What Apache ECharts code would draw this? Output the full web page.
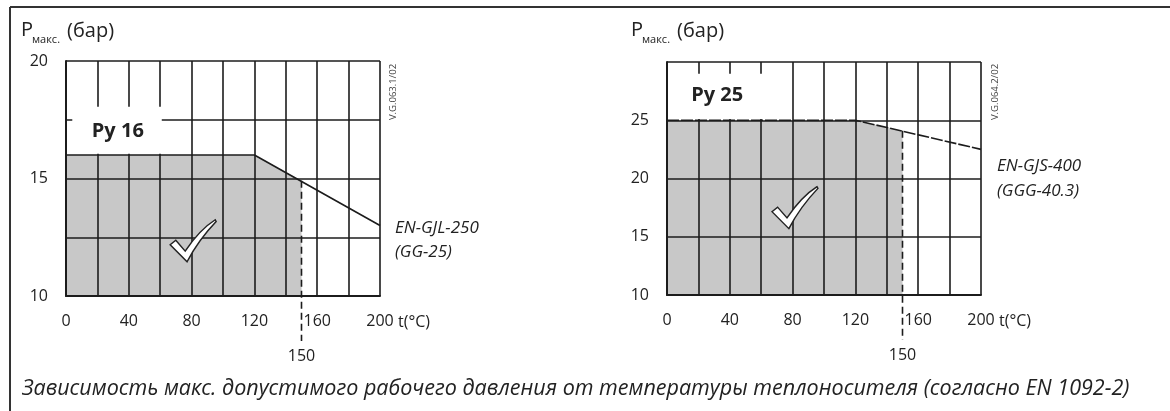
<!DOCTYPE html>
<html>
<head>
<meta charset="utf-8">
<script src="https://cdn.jsdelivr.net/npm/echarts@6/dist/echarts.min.js"></script>
<style>
html,body{margin:0;padding:0;background:#fff;}
#chart{width:1170px;height:411px;}
</style>
</head>
<body>
<div id="chart"></div>
<script>
// ---- data ----
const tempLabels = [0, 40, 80, 120, 160, 200];
const py16YLabels = [10, 15, 20];
const py25YLabels = [10, 15, 20, 25];
const py16Curve = [[0, 16], [120, 16], [200, 13]];
const py16Allowed = [[0, 16], [120, 16], [150, 14.9]];
const py25Curve = [[0, 25], [120, 25], [200, 22.5]];
const py25Allowed = [[0, 25], [120, 25], [150, 24.1]];
const py16Limit = [[150, 14.9]];
const py25Limit = [[150, 24.1]];
const materials = [['EN-GJL-250', '(GG-25)'], ['EN-GJS-400', '(GGG-40.3)']];
const pressureClasses = ['Py 16', 'Py 25'];
const drawingCodes = ['V.G.063.1/02', 'V.G.064.2/02'];
const xTitle = 't(°C)';
const caption = 'Зависимость макс. допустимого рабочего давления от температуры теплоносителя (согласно EN 1092-2)';

const FONT = "'Open Sans', 'Noto Sans', sans-serif";
const INK = '#1c1c1c';

const panels = [
  { grid: {left: 66, top: 61, width: 314, height: 235}, yMin: 10, yMax: 20, yInt: 2.5,
    yLabels: py16YLabels, curve: py16Curve, allowed: py16Allowed, limit: py16Limit,
    curveDash: 'solid', box: [4, 18.05, 61, 16.05], labelAt: [33, 17.0], check: [81, 12.35],
    label: pressureClasses[0] },
  { grid: {left: 667, top: 62, width: 314, height: 233}, yMin: 10, yMax: 30, yInt: 5,
    yLabels: py25YLabels, curve: py25Curve, allowed: py25Allowed, limit: py25Limit,
    curveDash: [12, 2], box: [2, 29, 79, 25.1], labelAt: [32, 27.1], check: [81.5, 17.5],
    label: pressureClasses[1] }
];

const chart = echarts.init(document.getElementById('chart'), null, {renderer: 'canvas'});

const xAxes = [], yAxes = [], series = [];
panels.forEach((p, i) => {
  xAxes.push({
    gridIndex: i, type: 'value', min: 0, max: 200, interval: 20, z: 3,
    axisLine: {show: true, onZero: false, lineStyle: {color: INK, width: 2}},
    axisTick: {show: false},
    splitLine: {show: true, lineStyle: {color: INK, width: 1.6}},
    axisLabel: {formatter: v => tempLabels.includes(v) ? String(v) : '', margin: 17,
      fontSize: 16, color: '#222', fontFamily: FONT}
  });
  yAxes.push({
    gridIndex: i, type: 'value', min: p.yMin, max: p.yMax, interval: p.yInt, z: 3,
    axisLine: {show: true, onZero: false, lineStyle: {color: INK, width: 2}},
    axisTick: {show: false},
    splitLine: {show: true, lineStyle: {color: INK, width: 1.6}},
    axisLabel: {formatter: v => p.yLabels.includes(v) ? String(v) : '', margin: 18,
      fontSize: 16, color: '#222', fontFamily: FONT}
  });
  // allowed (grey) region
  series.push({
    type: 'line', xAxisIndex: i, yAxisIndex: i, data: p.allowed, symbol: 'none', z: 1,
    lineStyle: {width: 0}, areaStyle: {color: '#c8c8c8', opacity: 1, origin: 'start'},
    silent: true, animation: false
  });
  // white label box with pressure class
  series.push({
    type: 'custom', xAxisIndex: i, yAxisIndex: i, data: [[0]], z: 4, silent: true, animation: false,
    renderItem: (params, api) => {
      const a = api.coord([p.box[0], p.box[1]]);
      const b = api.coord([p.box[2], p.box[3]]);
      const t = api.coord(p.labelAt);
      return {type: 'group', children: [
        {type: 'rect', shape: {x: a[0], y: a[1], width: b[0] - a[0], height: b[1] - a[1]},
          style: {fill: '#fff'}},
        {type: 'text', x: t[0], y: t[1], style: {text: p.label, fontSize: 20, fontWeight: 'bold',
          fontFamily: FONT, fill: '#222', align: 'center', verticalAlign: 'middle'}}
      ]};
    }
  });
  // pressure curve
  series.push({
    type: 'line', xAxisIndex: i, yAxisIndex: i, data: p.curve, symbol: 'none', z: 5,
    lineStyle: {color: INK, width: 1.6, type: p.curveDash}, silent: true, animation: false
  });
  // temperature limit marker + x-axis title
  series.push({
    type: 'custom', xAxisIndex: i, yAxisIndex: i, data: p.limit, z: 5, silent: true, animation: false,
    renderItem: (params, api) => {
      const top = api.coord([api.value(0), api.value(1)]);
      const base = api.coord([api.value(0), p.yMin]);
      const end = api.coord([200, p.yMin]);
      return {type: 'group', children: [
        {type: 'line', shape: {x1: top[0], y1: top[1], x2: base[0], y2: base[1] + 45},
          style: {stroke: INK, lineWidth: 1.6, lineDash: [7, 4]}},
        {type: 'text', x: base[0], y: base[1] + 60, style: {text: String(api.value(0)),
          fontSize: 16, fontFamily: FONT, fill: '#222', align: 'center', verticalAlign: 'middle'}},
        {type: 'text', x: end[0] + 18, y: end[1] + 26, style: {text: xTitle,
          fontSize: 16, fontFamily: FONT, fill: '#222', align: 'left', verticalAlign: 'middle'}}
      ]};
    }
  });
  // check mark
  series.push({
    type: 'scatter', xAxisIndex: i, yAxisIndex: i, data: [p.check], z: 6, silent: true, animation: false,
    symbol: 'path://M2,58 L14,48 L34,72 C52,44 74,18 98,2 L100,6 C78,30 56,60 38,96 Z',
    symbolSize: [46, 42], symbolKeepAspect: false,
    itemStyle: {color: '#fff', borderColor: '#222', borderWidth: 1.4, opacity: 1}
  });
});

const txt = (x, y, text, extra) => Object.assign({type: 'text', x: x, y: y,
  style: Object.assign({text: text, fontFamily: FONT, fill: '#222', fontSize: 16,
    verticalAlign: 'middle'}, extra || {})});

const graphics = [
  {type: 'line', shape: {x1: 10, y1: 7, x2: 1170, y2: 7}, style: {stroke: '#333', lineWidth: 2}},
  {type: 'line', shape: {x1: 10, y1: 7, x2: 10, y2: 411}, style: {stroke: '#333', lineWidth: 2}},
  // axis titles
  txt(21, 30, 'P', {fontSize: 20}), txt(32, 40, 'макс.', {fontSize: 11}), txt(67, 31, '(бар)', {fontSize: 20}),
  txt(631, 30, 'P', {fontSize: 20}), txt(642, 40, 'макс.', {fontSize: 11}), txt(677, 31, '(бар)', {fontSize: 20}),
  // drawing codes
  Object.assign(txt(393, 92, drawingCodes[0], {fontSize: 9.5, align: 'center', fill: '#444'}), {rotation: Math.PI / 2}),
  Object.assign(txt(995, 92, drawingCodes[1], {fontSize: 9.5, align: 'center', fill: '#444'}), {rotation: Math.PI / 2}),
  // material labels
  txt(395, 228, materials[0][0], {fontSize: 17, fontStyle: 'italic'}),
  txt(395, 252, materials[0][1], {fontSize: 17, fontStyle: 'italic'}),
  txt(997, 166, materials[1][0], {fontSize: 17, fontStyle: 'italic'}),
  txt(997, 191, materials[1][1], {fontSize: 17, fontStyle: 'italic'}),
  // caption
  txt(22, 389, caption, {fontSize: 21.5, fontStyle: 'italic'})
];

chart.setOption({
  animation: false,
  backgroundColor: '#fff',
  grid: panels.map(p => Object.assign({containLabel: false, show: false}, p.grid)),
  xAxis: xAxes,
  yAxis: yAxes,
  series: series,
  graphic: graphics
});
</script>
</body>
</html>
